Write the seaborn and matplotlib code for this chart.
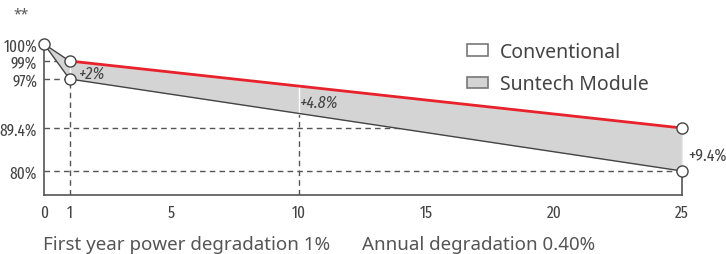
import numpy as np
import seaborn as sns
import matplotlib
matplotlib.use('Agg')
import matplotlib.pyplot as plt
from matplotlib.patches import Patch

# データ
years = [0, 1, 25]
conventional = [100, 97, 80]
suntech = [100, 99, 89.4]
x_ticks = [0, 1, 5, 10, 15, 20, 25]
y_ticks = [80, 89.4, 97, 99, 100]
y_labels = ['80%', '89.4%', '97%', '99%', '100%']
gain_labels = ['+2%', '+4.8%', '+9.4%']
legend_labels = ['Conventional', 'Suntech Module']
footer = ['First year power degradation 1%', 'Annual degradation 0.40%']

# 縦軸は等間隔ではないので区分線形のスケールを使う
scale_v = [75, 80, 89.4, 97, 99, 100, 102]
scale_s = [-24, 0, 43, 92, 110, 127, 137]

def fwd(v):
    return np.interp(v, scale_v, scale_s)

def inv(s):
    return np.interp(s, scale_s, scale_v)

def on_line(x, x0, x1, y0, y1):
    # 表示空間での直線上の値
    return float(inv(np.interp(x, [x0, x1], [fwd(y0), fwd(y1)])))

sns.set_style('white')
narrow = ['Fira Sans Extra Condensed', 'DejaVu Sans']
plt.rcParams['font.family'] = ['Noto Sans', 'DejaVu Sans']

dark = '#444444'
dash = '#555555'
fill = '#d4d4d4'
red = '#e8212a'

fig = plt.figure(figsize=(7.26, 2.55), dpi=100)
ax = fig.add_axes([44/726, 59/255, 638/726, 156/255])
ax.set_yscale('function', functions=(fwd, inv))
ax.set_xlim(0, 25)
ax.set_ylim(75, 101)

sun10 = on_line(10, years[1], years[2], suntech[1], suntech[2])
con10 = on_line(10, years[1], years[2], conventional[1], conventional[2])

# 破線
dkw = dict(color=dash, lw=1, ls=(0, (4, 3)), zorder=1)
ax.plot([0, 1], [suntech[1]] * 2, **dkw)
ax.plot([0, 1], [conventional[1]] * 2, **dkw)
ax.plot([0, 25], [suntech[2]] * 2, **dkw)
ax.plot([0, 25], [conventional[2]] * 2, **dkw)
ax.plot([1, 1], [75, conventional[1]], **dkw)
ax.plot([10, 10], [75, con10], **dkw)

ax.fill_between(years, conventional, suntech, color=fill, lw=0, zorder=2)
for xv, lo, hi in [(1, conventional[1], suntech[1]), (10, con10, sun10), (25, conventional[2], suntech[2])]:
    ax.plot([xv, xv], [lo, hi], color='white', lw=1, zorder=3)

sns.lineplot(x=years, y=conventional, color=dark, lw=1, ax=ax, zorder=4)
sns.lineplot(x=years[:2], y=suntech[:2], color=dark, lw=1, ax=ax, zorder=4)
sns.lineplot(x=years[1:], y=suntech[1:], color=red, lw=2, ax=ax, zorder=5)
ax.plot(years + years[1:], conventional + suntech[1:], 'o', ms=8, mfc='white',
        mec=dark, mew=1, zorder=6, clip_on=False)

# 注記
ax.annotate(gain_labels[0], (1, suntech[1]), xytext=(9, -12), textcoords='offset pixels',
            ha='left', va='center', fontsize=12.5, color=dark, style='italic', family=narrow)
ax.annotate(gain_labels[1], (10, sun10), xytext=(1, -16), textcoords='offset pixels',
            ha='left', va='center', fontsize=12.5, color=dark, style='italic', family=narrow)
ax.annotate(gain_labels[2], (25, conventional[2]), xytext=(6, 16), textcoords='offset pixels',
            ha='left', va='center', fontsize=12.5, color=dark, family=narrow)

# 軸
ax.spines['top'].set_visible(False)
for s in ['left', 'bottom', 'right']:
    ax.spines[s].set_color(dash)
    ax.spines[s].set_linewidth(1.2)
ax.spines['left'].set_bounds(75, 100)
ax.spines['right'].set_bounds(75, 80)
ax.set_xticks(x_ticks)
ax.set_xticklabels([str(t) for t in x_ticks], family=narrow, fontsize=12, color=dark)
ax.set_yticks(y_ticks)
ax.set_yticklabels(y_labels, family=narrow, fontsize=12, color=dark)
ax.yaxis.set_minor_locator(matplotlib.ticker.NullLocator())
ax.tick_params(length=0)
ax.tick_params(axis='x', pad=7)
ax.tick_params(axis='y', pad=5)
ax.grid(False)

handles = [Patch(facecolor='white', edgecolor='#777777', lw=1.2),
           Patch(facecolor=fill, edgecolor='#777777', lw=1.2)]
fig.legend(handles, legend_labels, loc='upper left', bbox_to_anchor=(457/726, 1 - 33/255),
           frameon=False, fontsize=14, handlelength=1.1, handleheight=0.55,
           handletextpad=0.6, labelspacing=0.65, borderpad=0, labelcolor=dark)

fig.text(13/726, 1 - 15/255, '**', fontsize=10, color='#555555', va='center')
fig.text(43/726, 1 - 245/255, footer[0], fontsize=13.5, color='#555555', va='center')
fig.text(362/726, 1 - 245/255, footer[1], fontsize=13.5, color='#555555', va='center')

fig.savefig('out.png', dpi=100)
